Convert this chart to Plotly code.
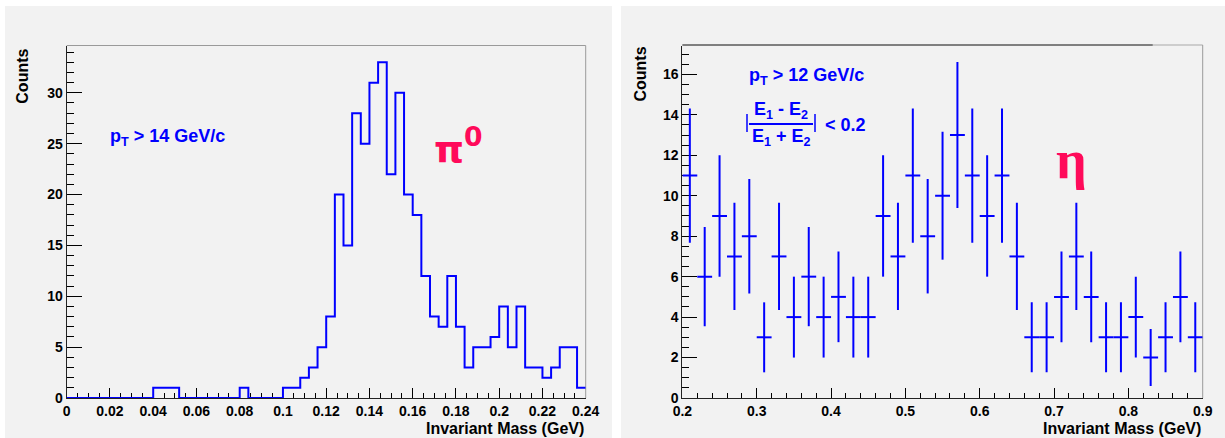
import plotly.graph_objects as go

# ---------------- data ----------------
# Left: pi0 invariant-mass histogram, 60 bins of 0.004 GeV from 0 to 0.24
pi0_bin_width = 0.004
pi0_counts = [0, 0, 0, 0, 0, 0, 0, 0, 0, 0,
              1, 1, 1, 0, 0, 0, 0, 0, 0, 0,
              1, 0, 0, 0, 0, 1, 1, 2, 3, 5,
              8, 20, 15, 28, 25, 31, 33, 22, 30, 20,
              18, 12, 8, 7, 12, 7, 3, 5, 5, 6,
              9, 5, 9, 3, 3, 2, 3, 5, 5, 1]

# Right: eta invariant-mass points, bin centres (0.02 GeV bins from 0.2 to 0.9)
eta_mass = [0.21, 0.23, 0.25, 0.27, 0.29, 0.31, 0.33, 0.35, 0.37, 0.39,
            0.41, 0.43, 0.45, 0.47, 0.49, 0.51, 0.53, 0.55, 0.57, 0.59,
            0.61, 0.63, 0.65, 0.67, 0.69, 0.71, 0.73, 0.75, 0.77, 0.79,
            0.81, 0.83, 0.85, 0.87, 0.89]
eta_counts = [11, 6, 9, 7, 8, 3, 7, 4, 6, 4,
              5, 4, 4, 9, 7, 11, 8, 10, 13, 11,
              9, 11, 7, 3, 3, 5, 7, 5, 3, 3,
              4, 2, 3, 5, 3]
eta_errors = [3.32, 2.45, 3.00, 2.65, 2.83, 1.73, 2.65, 2.00, 2.45, 2.00,
              2.24, 2.00, 2.00, 3.00, 2.65, 3.32, 2.83, 3.16, 3.61, 3.32,
              3.00, 3.32, 2.65, 1.73, 1.73, 2.24, 2.65, 2.24, 1.73, 1.73,
              2.00, 1.41, 1.73, 2.24, 1.73]
eta_bin_width = 0.02

left_x_title = "Invariant Mass (GeV)"
right_x_title = "Invariant Mass (GeV)"
y_title = "Counts"

# ---------------- geometry helpers ----------------
W, H = 1225, 438
def px(x):
    return x / W
def py(y):
    return 1 - y / H

BLUE = "#0000ff"
PINK = "#ff0a5a"
PANEL = "#f2f2f2"
FONT = "Liberation Sans"

n_bins = len(pi0_counts)
edges = [round(i * pi0_bin_width, 6) for i in range(n_bins + 1)]
hist_y = pi0_counts + [pi0_counts[-1]]

fig = go.Figure()

fig.add_trace(go.Scatter(
    x=edges, y=hist_y, mode="lines", line=dict(shape="hv", color=BLUE, width=2),
    xaxis="x", yaxis="y", showlegend=False, hoverinfo="skip"))

fig.add_trace(go.Scatter(
    x=eta_mass, y=eta_counts, mode="markers",
    marker=dict(color="rgba(0,0,0,0)", size=2),
    error_y=dict(type="data", array=eta_errors, color=BLUE, thickness=2, width=0),
    error_x=dict(type="constant", value=eta_bin_width / 2, color=BLUE, thickness=2, width=0),
    xaxis="x2", yaxis="y2", showlegend=False, hoverinfo="skip"))

tickfont = dict(family=FONT, size=14, color="black", weight="bold")
ydom = [py(398), py(45.5)]

common_axis = dict(showgrid=False, zeroline=False, showline=True, linecolor="#222222",
                   linewidth=1, ticks="inside", tickcolor="black", tickwidth=1,
                   tickfont=tickfont, layer="below traces", automargin=False)

fig.update_layout(
    template="none",
    width=W, height=H, margin=dict(l=0, r=0, t=0, b=0, pad=0),
    paper_bgcolor="white", plot_bgcolor="rgba(0,0,0,0)",
    xaxis=dict(domain=[px(66.7), px(585.7)], range=[0, 0.24], dtick=0.02, tick0=0,
               ticklen=10, minor=dict(dtick=0.005, ticklen=5, ticks="inside", tickcolor="black"),
               anchor="y", **common_axis),
    yaxis=dict(domain=ydom, range=[0, 34.65], dtick=5, tick0=0,
               ticklen=15, minor=dict(dtick=1, ticklen=7, ticks="inside", tickcolor="black"),
               anchor="x", **common_axis),
    xaxis2=dict(domain=[px(682.4), px(1202.7)], range=[0.2, 0.9], dtick=0.1, tick0=0.2,
                ticklen=10, minor=dict(dtick=0.02, ticklen=5, ticks="inside", tickcolor="black"),
                anchor="y2", **common_axis),
    yaxis2=dict(domain=ydom, range=[0, 17.43], dtick=2, tick0=0,
                ticklen=15, minor=dict(dtick=0.5, ticklen=7, ticks="inside", tickcolor="black"),
                anchor="x2", **common_axis),
)

shapes = []
# panel backgrounds
shapes.append(dict(type="rect", xref="paper", yref="paper", x0=px(5), x1=px(612), y0=0, y1=py(6),
                   fillcolor=PANEL, line=dict(width=0), layer="below"))
shapes.append(dict(type="rect", xref="paper", yref="paper", x0=px(621), x1=1, y0=0, y1=py(6),
                   fillcolor=PANEL, line=dict(width=0), layer="below"))
# frames (top / right in grey)
shapes.append(dict(type="line", xref="paper", yref="paper", x0=px(66.7), x1=px(585.7), y0=py(45.5), y1=py(45.5),
                   line=dict(color="#9a9a9a", width=1), layer="below"))
shapes.append(dict(type="line", xref="paper", yref="paper", x0=px(585.7), x1=px(585.7), y0=py(45.5), y1=py(398),
                   line=dict(color="#9a9a9a", width=1), layer="below"))
shapes.append(dict(type="line", xref="paper", yref="paper", x0=px(682.4), x1=px(1202.7), y0=py(45), y1=py(45),
                   line=dict(color="#a8a8a8", width=1), layer="below"))
shapes.append(dict(type="line", xref="paper", yref="paper", x0=px(682.4), x1=px(1152.7), y0=py(45), y1=py(45),
                   line=dict(color="#333333", width=1), layer="below"))
shapes.append(dict(type="line", xref="paper", yref="paper", x0=px(1202.7), x1=px(1202.7), y0=py(45), y1=py(398),
                   line=dict(color="#9a9a9a", width=1), layer="below"))
# fraction line and absolute-value bars
shapes.append(dict(type="line", xref="paper", yref="paper", x0=px(749), x1=px(813), y0=py(124), y1=py(124),
                   line=dict(color=BLUE, width=2)))
shapes.append(dict(type="line", xref="paper", yref="paper", x0=px(747), x1=px(747), y0=py(114), y1=py(132),
                   line=dict(color=BLUE, width=1.5)))
shapes.append(dict(type="line", xref="paper", yref="paper", x0=px(815), x1=px(815), y0=py(114), y1=py(132),
                   line=dict(color=BLUE, width=1.5)))
fig.update_layout(shapes=shapes)

title_font = dict(family=FONT, size=16, color="black", weight="bold")
label_font = dict(family=FONT, size=18, color=BLUE, weight="bold")

ann = []
ann.append(dict(text=y_title, x=px(21.7), y=py(46.5), xref="paper", yref="paper", textangle=-90,
                xanchor="center", yanchor="top", showarrow=False, font=title_font))
ann.append(dict(text=y_title, x=px(640), y=py(45), xref="paper", yref="paper", textangle=-90,
                xanchor="center", yanchor="top", showarrow=False, font=title_font))
ann.append(dict(text=left_x_title, x=px(586), y=py(428), xref="paper", yref="paper",
                xanchor="right", yanchor="middle", showarrow=False, font=title_font))
ann.append(dict(text=right_x_title, x=px(1202.7), y=py(428), xref="paper", yref="paper",
                xanchor="right", yanchor="middle", showarrow=False, font=title_font))
ann.append(dict(text="p<sub>T</sub> > 14 GeV/c", x=px(108), y=py(137), xref="paper", yref="paper",
                xanchor="left", yanchor="middle", showarrow=False, font=label_font))
ann.append(dict(text="p<sub>T</sub> > 12 GeV/c", x=px(747), y=py(77), xref="paper", yref="paper",
                xanchor="left", yanchor="middle", showarrow=False, font=label_font))
ann.append(dict(text="E<sub>1</sub> - E<sub>2</sub>", x=px(781), y=py(110), xref="paper", yref="paper",
                xanchor="center", yanchor="middle", showarrow=False, font=label_font))
ann.append(dict(text="E<sub>1</sub> + E<sub>2</sub>", x=px(781), y=py(138), xref="paper", yref="paper",
                xanchor="center", yanchor="middle", showarrow=False, font=label_font))
ann.append(dict(text="< 0.2", x=px(823), y=py(125), xref="paper", yref="paper",
                xanchor="left", yanchor="middle", showarrow=False, font=label_font))
ann.append(dict(text="π<sup>0</sup>", x=px(458), y=py(146), xref="paper", yref="paper",
                xanchor="center", yanchor="middle", showarrow=False,
                font=dict(family="DejaVu Sans", size=38, color=PINK, weight="bold")))
ann.append(dict(text="η", x=px(1071), y=py(160), xref="paper", yref="paper",
                xanchor="center", yanchor="middle", showarrow=False,
                font=dict(family="Liberation Serif", size=54, color=PINK, weight="bold")))
fig.update_layout(annotations=ann)

fig.write_html("out.html", config={"displayModeBar": False},
               post_script="document.body.style.margin='0px';document.body.style.overflow='hidden';")
